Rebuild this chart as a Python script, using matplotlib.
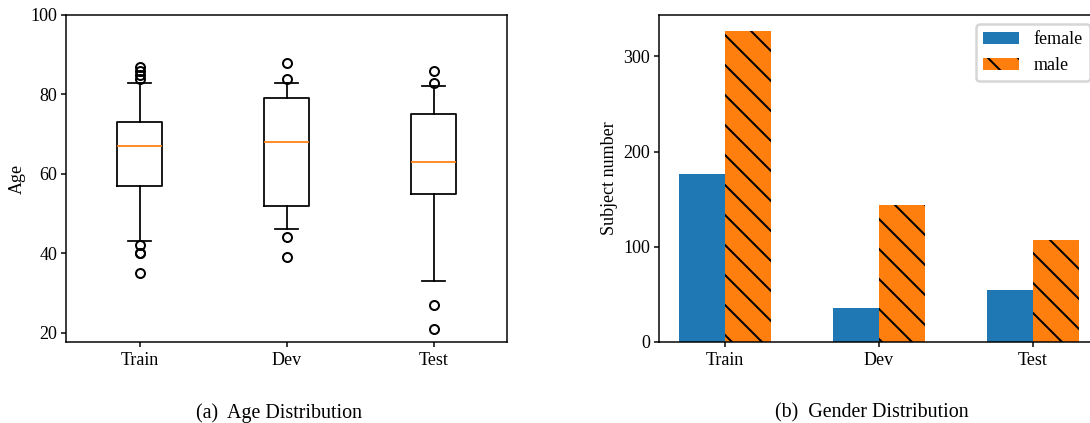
import matplotlib
matplotlib.use("Agg")
import matplotlib.pyplot as plt
import numpy as np

# data
splits = ['Train', 'Dev', 'Test']
age_q1 = [57, 52, 55]
age_med = [67, 68, 63]
age_q3 = [73, 79, 75]
age_lo = [43, 46, 33]
age_hi = [83, 83, 82]
age_fliers = [[35, 40, 40, 42, 84, 85, 86, 87],
              [39, 44, 84, 88],
              [21, 27, 83, 86]]
female = [176, 36, 55]
male = [327, 144, 107]

plt.rcParams['font.family'] = ['Liberation Serif', 'DejaVu Serif']
plt.rcParams['font.size'] = 7.2
plt.rcParams['axes.linewidth'] = 0.6
plt.rcParams['xtick.major.size'] = 2
plt.rcParams['ytick.major.size'] = 2
plt.rcParams['xtick.major.width'] = 0.6
plt.rcParams['ytick.major.width'] = 0.6
plt.rcParams['xtick.major.pad'] = 2
plt.rcParams['ytick.major.pad'] = 1.5
plt.rcParams['hatch.linewidth'] = 0.8

W, H = 1090, 423
dpi = 180
fig = plt.figure(figsize=(W / dpi, H / dpi), dpi=dpi)

# (a) age boxplot
ax1 = fig.add_axes([66 / W, 1 - 342 / H, 441 / W, 327 / H])
stats = []
for i in range(len(splits)):
    stats.append({'label': splits[i], 'med': age_med[i], 'q1': age_q1[i], 'q3': age_q3[i],
                  'whislo': age_lo[i], 'whishi': age_hi[i], 'fliers': age_fliers[i]})
ax1.bxp(stats, widths=0.3,
        boxprops=dict(linewidth=0.7),
        whiskerprops=dict(linewidth=0.7),
        capprops=dict(linewidth=0.7),
        medianprops=dict(linewidth=0.7, color='#ff7f0e'),
        flierprops=dict(marker='o', markersize=3.6, markeredgewidth=0.8,
                        markerfacecolor='none', markeredgecolor='black'))
ax1.set_ylim(top=100)
ax1.set_yticks([20, 40, 60, 80, 100])
ax1.set_ylabel('Age', labelpad=2)

# (b) gender bars
ax2 = fig.add_axes([659 / W, 1 - 342 / H, 440 / W, 327 / H])
x = np.arange(len(splits))
ax2.bar(x - 0.15, female, 0.3, color='#1f77b4', label='female')
ax2.bar(x + 0.15, male, 0.3, color='#ff7f0e', hatch='\\\\', label='male')
ax2.set_xticks(x)
ax2.set_xticklabels(splits)
ax2.set_yticks([0, 100, 200, 300])
ax2.set_ylabel('Subject number', labelpad=2)
ax2.legend(loc='upper right')

fig.text(279 / W, 1 - 413 / H, '(a)  Age Distribution', ha='center', va='center', fontsize=8)
fig.text(872 / W, 1 - 413 / H, '(b)  Gender Distribution', ha='center', va='center', fontsize=8)

fig.savefig('out.png', dpi=dpi)
